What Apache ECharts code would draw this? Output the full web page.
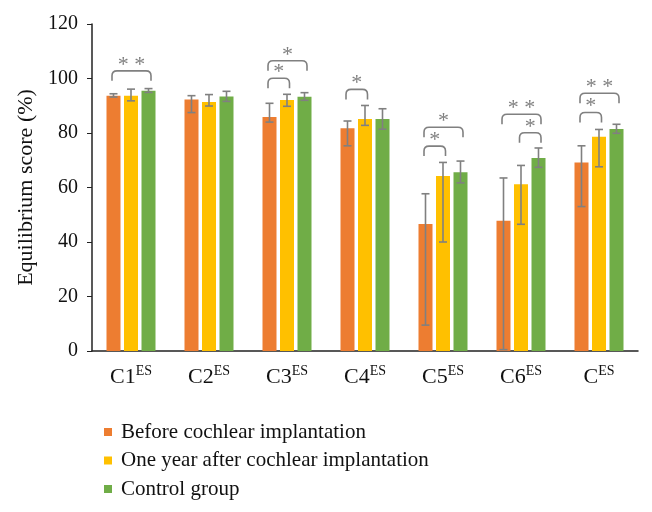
<!DOCTYPE html>
<html>
<head>
<meta charset="utf-8">
<script src="https://cdn.jsdelivr.net/npm/echarts@6/dist/echarts.min.js"></script>
<style>html,body{margin:0;padding:0;background:#fff}#c{width:652px;height:512px}</style>
</head>
<body>
<div id="c"></div>
<script>
// ---- data ----
var categories = ['C1', 'C2', 'C3', 'C4', 'C5', 'C6', 'C'];
var seriesNames = ['Before cochlear implantation', 'One year after cochlear implantation', 'Control group'];
var before      = [93.7, 92.3, 85.9, 81.7, 46.6, 47.8, 69.2];
var beforeLow   = [93.2, 87.5, 84.0, 75.3,  9.5,  0.5, 53.0];
var beforeHigh  = [94.4, 93.7, 90.9, 84.4, 57.7, 63.5, 75.3];
var oneYear     = [93.7, 91.4, 92.1, 85.1, 64.2, 61.2, 78.6];
var oneYearLow  = [91.8, 89.9, 89.8, 82.8, 40.0, 46.5, 67.6];
var oneYearHigh = [96.1, 94.1, 94.2, 90.1, 69.2, 68.1, 81.3];
var control     = [95.5, 93.4, 93.3, 85.1, 65.6, 70.8, 81.5];
var controlLow  = [94.9, 91.6, 92.0, 81.4, 61.7, 67.4, 79.9];
var controlHigh = [96.3, 95.3, 94.8, 88.9, 69.7, 74.5, 83.2];
var yTicks = [0, 20, 40, 60, 80, 100, 120];
// significance brackets: [categoryIndex, fromSeries, toSeries, bracketTopValue]
var brackets = [
  [0, 0, 2, 102.8], [2, 0, 2, 106.5], [2, 0, 1, 100.1], [3, 0, 1, 96.0],
  [4, 0, 2, 82.1], [4, 0, 1, 75.2], [5, 0, 2, 86.9], [5, 1, 2, 80.1],
  [6, 0, 2, 94.6], [6, 0, 1, 87.5]
];
var bracketLabels = ['**', '*', '*', '*', '*', '*', '**', '*', '**', '*'];

// ---- style ----
var colors = ['#ED7D31', '#FFC000', '#70AD47'];
var BAR_W = 14, BAR_STEP = 17.5, GRAY = '#808080';
var SERIF = '"Liberation Serif", "DejaVu Serif", serif';

function errData(low, high) {
  return low.map(function (l, i) { return [i, l, high[i]]; });
}
function errSeries(idx, low, high) {
  return {
    type: 'custom', z: 5, silent: true,
    data: errData(low, high),
    encode: { x: 0, y: [1, 2] },
    renderItem: function (params, api) {
      var off = (idx - 1) * BAR_STEP;
      var lo = api.coord([api.value(0), api.value(1)]);
      var hi = api.coord([api.value(0), api.value(2)]);
      var x = lo[0] + off, h = 4;
      var st = { stroke: GRAY, lineWidth: 1.6 };
      return { type: 'group', children: [
        { type: 'line', shape: { x1: x, y1: lo[1], x2: x, y2: hi[1] }, style: st },
        { type: 'line', shape: { x1: x - h, y1: lo[1], x2: x + h, y2: lo[1] }, style: st },
        { type: 'line', shape: { x1: x - h, y1: hi[1], x2: x + h, y2: hi[1] }, style: st }
      ]};
    }
  };
}

var chart = echarts.init(document.getElementById('c'));
chart.setOption({
  animation: false,
  color: colors,
  grid: { left: 92, right: 14, top: 24, bottom: 161 },
  legend: {
    orient: 'vertical', left: 99, top: 416,
    itemWidth: 8, itemHeight: 8, itemGap: 6.5,
    icon: 'rect',
    data: seriesNames,
    textStyle: { fontFamily: SERIF, fontSize: 21, color: '#111', padding: [0, 0, 0, 4], lineHeight: 22 }
  },
  xAxis: {
    type: 'category', data: categories,
    axisLine: { lineStyle: { color: '#222', width: 1.5 } },
    axisTick: { show: false },
    axisLabel: {
      margin: 13, interval: 0,
      formatter: function (v) { return '{a|' + v + '}{b|ES}'; },
      rich: {
        a: { fontFamily: SERIF, fontSize: 22, color: '#111', lineHeight: 26 },
        b: { fontFamily: SERIF, fontSize: 14, color: '#111', verticalAlign: 'top', lineHeight: 14 }
      }
    }
  },
  yAxis: {
    type: 'value', min: yTicks[0], max: yTicks[yTicks.length - 1], interval: 20,
    name: 'Equilibrium score (%)', nameLocation: 'middle', nameGap: 54,
    nameTextStyle: { fontFamily: SERIF, fontSize: 22, color: '#111' },
    axisLine: { show: true, lineStyle: { color: '#222', width: 1.5 } },
    axisTick: { show: true, length: 5, lineStyle: { color: '#222' } },
    splitLine: { show: false },
    axisLabel: { margin: 14, fontFamily: SERIF, fontSize: 20, color: '#111' }
  },
  series: [
    { name: seriesNames[0], type: 'bar', data: before, barWidth: BAR_W, barGap: '25%' },
    { name: seriesNames[1], type: 'bar', data: oneYear, barWidth: BAR_W, barGap: '25%' },
    { name: seriesNames[2], type: 'bar', data: control, barWidth: BAR_W, barGap: '25%' },
    errSeries(0, beforeLow, beforeHigh),
    errSeries(1, oneYearLow, oneYearHigh),
    errSeries(2, controlLow, controlHigh),
    {
      type: 'custom', z: 6, silent: true,
      data: brackets,
      encode: { x: 0, y: 3 },
      renderItem: function (params, api) {
        var c = api.coord([api.value(0), api.value(3)]);
        var x1 = c[0] + (api.value(1) - 1) * BAR_STEP - 1.5;
        var x2 = c[0] + (api.value(2) - 1) * BAR_STEP + 2.5;
        var yt = c[1], yb = yt + 10, r = 5;
        var path = 'M' + x1 + ' ' + yb + ' L' + x1 + ' ' + (yt + r) +
          ' Q' + x1 + ' ' + yt + ' ' + (x1 + r) + ' ' + yt +
          ' L' + (x2 - r) + ' ' + yt +
          ' Q' + x2 + ' ' + yt + ' ' + x2 + ' ' + (yt + r) +
          ' L' + x2 + ' ' + yb;
        var lbl = bracketLabels[params.dataIndex] === '**' ? '* *' : '*';
        return { type: 'group', children: [
          { type: 'path', shape: { pathData: path }, style: { stroke: GRAY, lineWidth: 1.6, fill: null } },
          { type: 'text', x: (x1 + x2) / 2, y: yt + 5,
            style: { text: lbl, fill: GRAY, fontFamily: SERIF, fontSize: 22, align: 'center', verticalAlign: 'bottom' } }
        ]};
      }
    }
  ]
});
</script>
</body>
</html>
